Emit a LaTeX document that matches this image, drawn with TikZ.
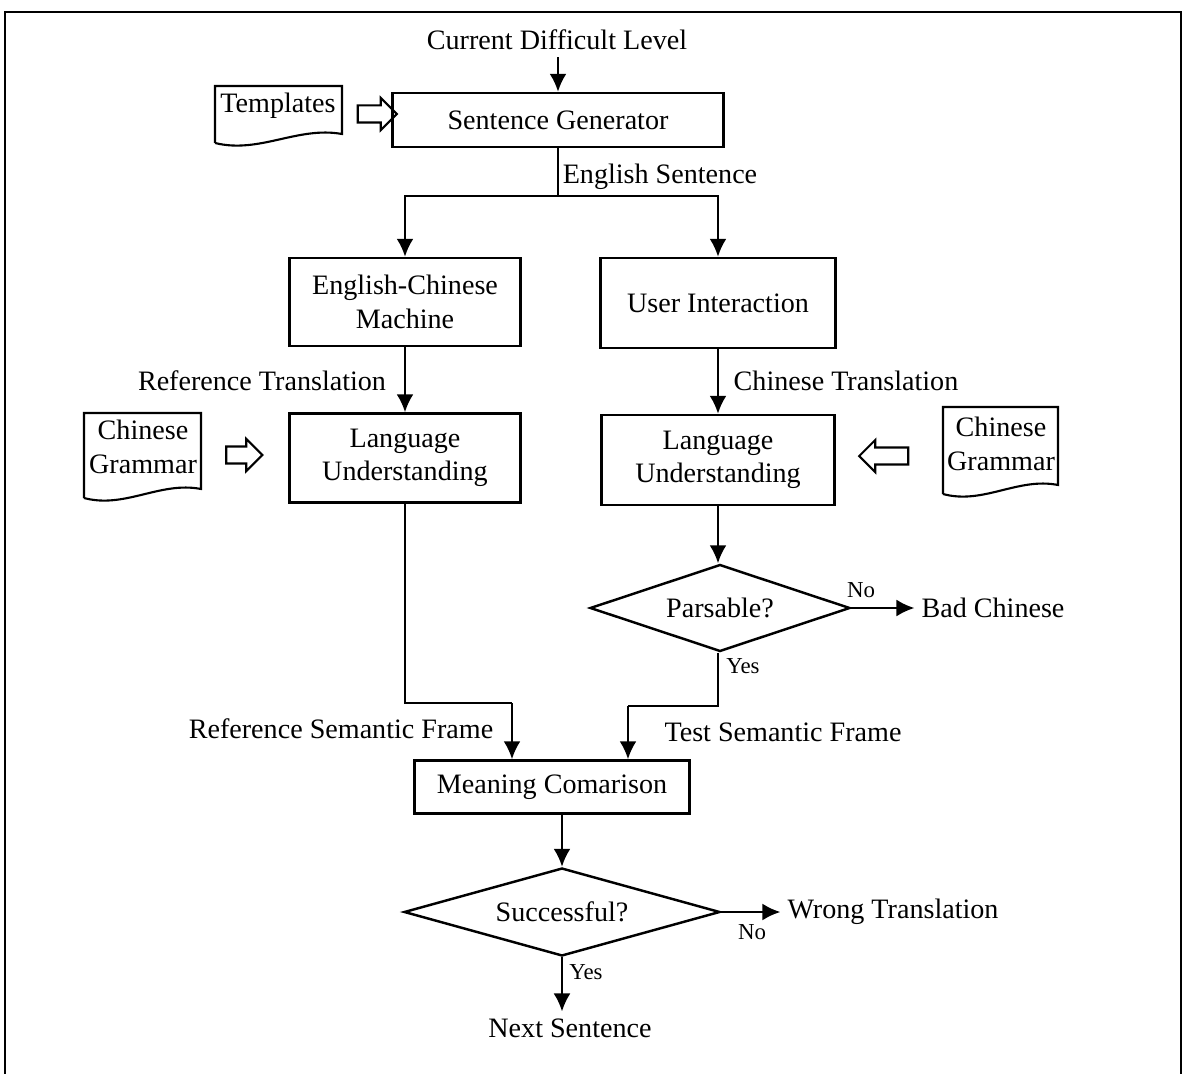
\documentclass[tikz,border=0pt]{standalone}
\usepackage{fontspec}
\setmainfont{Liberation Serif}
\usepackage{tikz}
\usetikzlibrary{shapes.geometric}
\usetikzlibrary{shapes.arrows}
\usetikzlibrary{arrows.meta}

\tikzset{
  block/.style={draw, line width=1.4pt, align=center, inner sep=2pt},
  decision/.style={draw, diamond, aspect=3, line width=1.4pt, inner sep=0pt},
  fatarrow/.style={draw, single arrow, line width=1.2pt, inner sep=0.15cm,
    single arrow head extend=0.15cm, single arrow head indent=0pt},
  yesno/.style={font=\fontsize{13}{15}\selectfont},
}
% wavy document outline: left, top, right, bottom
\newcommand{\docframe}[4]{%
  \draw [line width=1.2pt] (#1,#4) -- (#1,#2) -- (#3,#2) -- (#3,#4-9)
    .. controls (#3-0.35*#3+0.35*#1,#4-17) and (#1+0.35*#3-0.35*#1,#4+11) .. (#1,#4);}

\begin{document}
\begin{tikzpicture}[x=0.02cm, y=-0.02cm, font=\fontsize{16}{19}\selectfont,
  >={Latex[length=0.36cm,width=0.34cm]}, line width=1.4pt]
\useasboundingbox (0,0) rectangle (1183,1074);
\draw [line width=1.2pt] (5,1074) -- (5,12) -- (1181,12) -- (1181,1074);

% boxes
\node (cdl) at (557,40) {Current Difficult Level};
\node [block, minimum width=6.62cm, minimum height=1.08cm] (gen) at (558,120) {Sentence Generator};
\node [block, minimum width=4.62cm, minimum height=1.76cm] (ecm) at (405,302) {English-Chinese\\Machine};
\node [block, minimum width=4.7cm, minimum height=1.8cm] (ui) at (718,303) {User Interaction};
\node [block, minimum width=4.62cm, minimum height=1.78cm] (lul) at (405,458) {Language\\Understanding};
\node [block, minimum width=4.66cm, minimum height=1.8cm] (lur) at (718,460) {Language\\Understanding};
\node [decision, minimum width=5.2cm, minimum height=1.74cm] (par) at (720,608) {Parsable?};
\node (bad) at (993,608) {Bad Chinese};
\node [block, minimum width=5.5cm, minimum height=1.06cm] (cmp) at (552,787) {Meaning Comarison};
\node [decision, minimum width=6.32cm, minimum height=1.76cm] (suc) at (562,912) {Successful?};
\node (wrong) at (893,912) {Wrong Translation};
\node (next) at (570,1028) {Next Sentence};

% documents
\docframe{215}{86}{342}{143}
\node (tpl) at (278,106) {Templates};
\docframe{84}{413}{201}{498}
\node [align=center] (cgl) at (143,447) {Chinese\\Grammar};
\docframe{943}{407}{1058}{494}
\node [align=center] (cgr) at (1001,444) {Chinese\\Grammar};

\node [fatarrow, minimum height=0.78cm] (ta) at (373,114) {};
\node [fatarrow, minimum height=0.72cm] (cla) at (240,455) {};
\node [fatarrow, minimum height=0.98cm, shape border rotate=180] (cra) at (888,456) {};

% labels
\node (lbeng) at (660,177) {English Sentence};
\node (lbrt) at (262,381) {Reference Translation};
\node (lbct) at (846,381) {Chinese Translation};
\node (lbrs) at (341,729) {Reference Semantic Frame};
\node (lbts) at (783,732) {Test Semantic Frame};
\node [yesno] (pno) at (861,590) {No};
\node [yesno] (pyes) at (743,666) {Yes};
\node [yesno] (sno) at (752,932) {No};
\node [yesno] (syes) at (586,972) {Yes};

% connectors
\coordinate (split) at (558,196);
\coordinate (rj) at (512,703);
\coordinate (tj) at (628,706);
\draw [->] (cdl.south -| gen.north) -- (gen.north);
\draw (gen.south) -- (split);
\draw [->] (split) -| (ecm.north);
\draw [->] (split) -| (ui.north);
\draw [->] (ecm) -- (lul);
\draw [->] (ui) -- (lur);
\draw [->] (lur.south) -- (lur.south |- par.north);
\draw [->] (par.east) -- (bad.west);
\draw (lul.south) |- (rj);
\draw [->] (rj) -- (rj |- cmp.north);
\draw (lur.south |- par.south) |- (tj);
\draw [->] (tj) -- (tj |- cmp.north);
\draw [->] (cmp.south -| suc.north) -- (suc.north);
\draw [->] (suc.east) -- (wrong.west);
\draw [->] (suc.south) -- (suc.south |- next.north);

\end{tikzpicture}
\end{document}
